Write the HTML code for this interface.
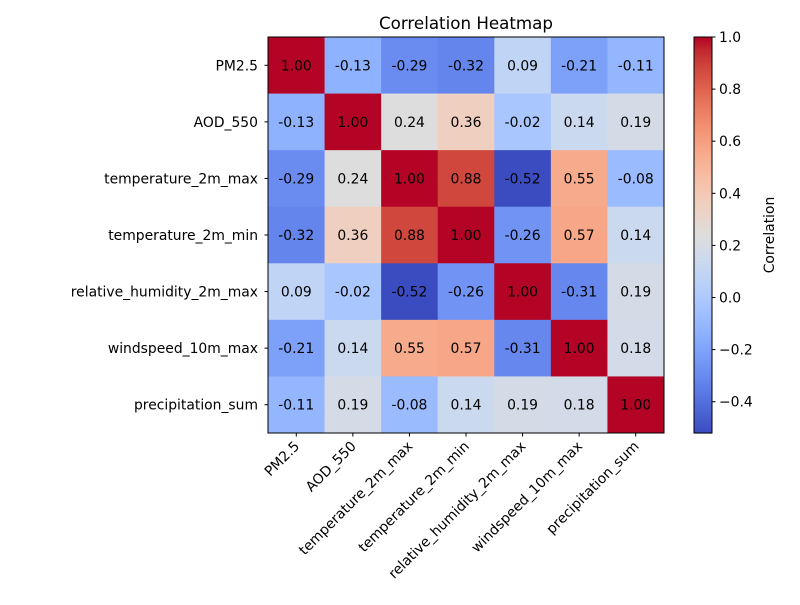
<!DOCTYPE html>
<html><head><meta charset="utf-8"><style>
body{margin:0;background:#fff}
text{font-family:"DejaVu Sans","Liberation Sans",sans-serif;font-size:13.9px;fill:#000}
</style></head><body>
<svg id="chart" width="800" height="600" xmlns="http://www.w3.org/2000/svg">
<rect width="800" height="600" fill="#fff"/>
<text x="466" y="29" text-anchor="middle" style="font-size:16.7px">Correlation Heatmap</text>
<g id="cells"></g><g id="ylabels"></g><g id="xlabels"></g><g id="cbar"></g>
<rect x="268" y="37" width="396" height="396" fill="none" stroke="#000" stroke-width="1"/>
<text transform="translate(774,235) rotate(-90)" text-anchor="middle">Correlation</text>
</svg>
<script>
const labels=["PM2.5","AOD_550","temperature_2m_max","temperature_2m_min","relative_humidity_2m_max","windspeed_10m_max","precipitation_sum"];
const row0=[1.00,-0.13,-0.29,-0.32,0.09,-0.21,-0.11];
const row1=[-0.13,1.00,0.24,0.36,-0.02,0.14,0.19];
const row2=[-0.29,0.24,1.00,0.88,-0.52,0.55,-0.08];
const row3=[-0.32,0.36,0.88,1.00,-0.26,0.57,0.14];
const row4=[0.09,-0.02,-0.52,-0.26,1.00,-0.31,0.19];
const row5=[-0.21,0.14,0.55,0.57,-0.31,1.00,0.18];
const row6=[-0.11,0.19,-0.08,0.14,0.19,0.18,1.00];
const cbTicks=[-0.4,-0.2,0.0,0.2,0.4,0.6,0.8,1.0];
const vmin=-0.52,vmax=1.0;
const rows=[row0,row1,row2,row3,row4,row5,row6];
const cmap=[[59,76,192],[68,90,204],[77,104,215],[87,117,225],[98,130,234],[108,142,241],[119,154,247],[130,165,251],[141,176,254],[152,185,255],[163,194,255],[174,201,253],[184,208,249],[194,213,244],[204,217,238],[213,219,230],[221,221,221],[229,216,209],[236,211,197],[241,204,185],[245,196,173],[247,187,160],[247,177,148],[247,166,135],[244,154,123],[241,141,111],[236,127,99],[229,112,88],[222,96,77],[213,80,66],[203,62,56],[192,40,47],[180,4,38]];
function color(v){let t=Math.max(0,Math.min(1,(v-vmin)/(vmax-vmin)))*(cmap.length-1);let i=Math.min(Math.floor(t),cmap.length-2),f=t-i;const c=cmap[i].map((a,k)=>Math.round(a+(cmap[i+1][k]-a)*f));return `rgb(${c.join(',')})`;}
const X0=268,Y0=37,S=396/7;
const xs=i=>X0+S*(i+0.5), ys=i=>Y0+S*(i+0.5);
const NS="http://www.w3.org/2000/svg";
function mk(tag,attrs,parent){const e=document.createElementNS(NS,tag);for(const k in attrs)e.setAttribute(k,attrs[k]);parent.appendChild(e);return e;}
const cells=document.getElementById('cells');
rows.forEach((r,i)=>r.forEach((v,j)=>{
 const rc=mk('rect',{x:X0+S*j,y:Y0+S*i,width:S+0.5,height:S+0.5,fill:color(v)},cells);
 
 
 const t=mk('text',{x:xs(j),y:ys(i)+5,'text-anchor':'middle'},cells);t.textContent=v.toFixed(2);
 
 
}));
const yl=document.getElementById('ylabels'),xl=document.getElementById('xlabels');
labels.forEach((l,i)=>{
 mk('line',{x1:X0-3.5,x2:X0,y1:ys(i),y2:ys(i),stroke:'#000'},yl);
 const t=mk('text',{x:X0-10,y:ys(i)+5,'text-anchor':'end'},yl);t.textContent=l;
 
 
 mk('line',{x1:xs(i),x2:xs(i),y1:433,y2:436.5,stroke:'#000'},xl);
 const u=mk('text',{transform:`translate(${xs(i)+4},${447}) rotate(-45)`,'text-anchor':'end'},xl);u.textContent=l;
 
 
});
const cb=document.getElementById('cbar');
const CX=694,CW=18,CY0=37,CH=396;
const cy=v=>CY0+CH-(v-vmin)/(vmax-vmin)*CH;
const N=200;
for(let k=0;k<N;k++){const v=vmin+(vmax-vmin)*(k+0.5)/N;mk('rect',{x:CX,y:cy(vmin+(vmax-vmin)*(k+1)/N),width:CW,height:CH/N+0.6,fill:color(v)},cb);}
const fr=mk('rect',{x:CX,y:CY0,width:CW,height:CH,fill:'none',stroke:'#000'},cb);


cbTicks.forEach(v=>{
 mk('line',{x1:CX+CW,x2:CX+CW+3.5,y1:cy(v),y2:cy(v),stroke:'#000'},cb);
 const t=mk('text',{x:CX+CW+7,y:cy(v)+5},cb);t.textContent=(v<0?'\u2212':'')+Math.abs(v).toFixed(1);
 
 
});
</script>
</body></html>
